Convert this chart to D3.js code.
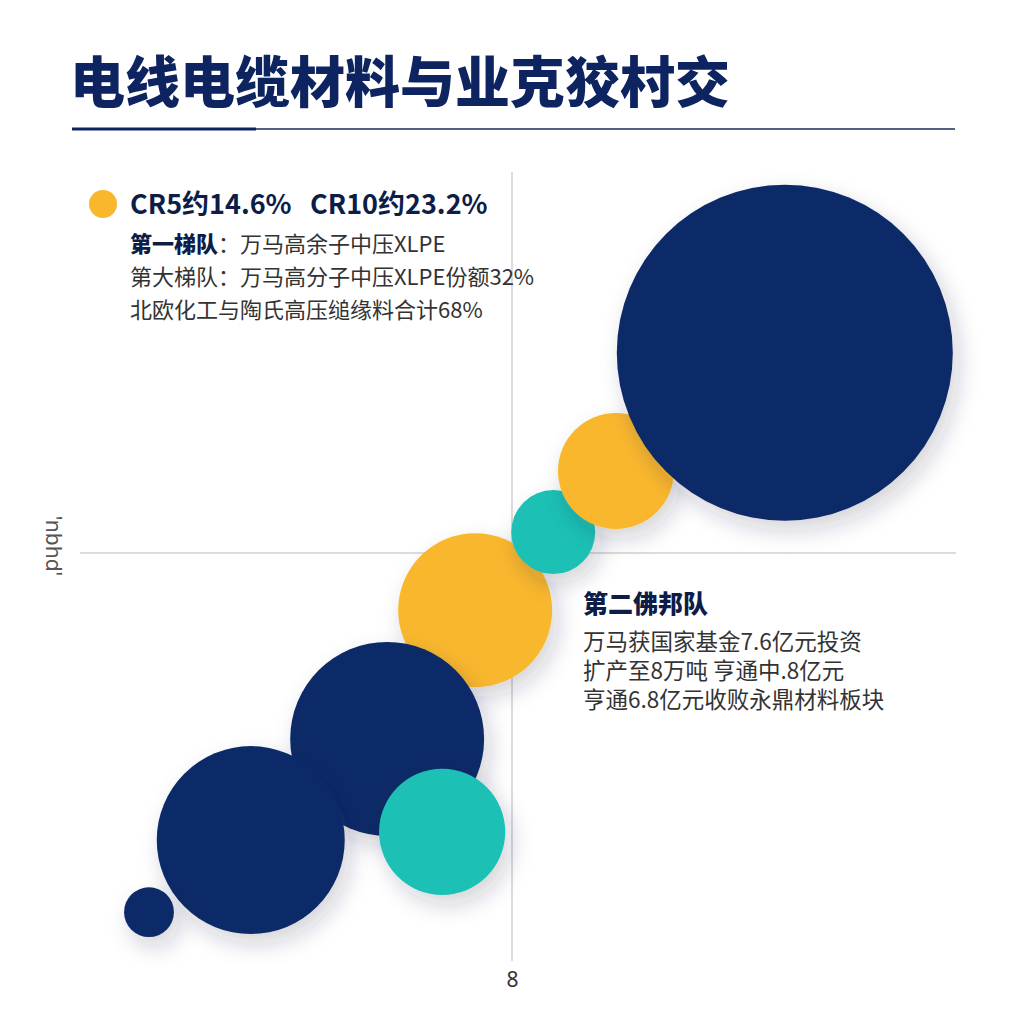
<!DOCTYPE html>
<html>
<head>
<meta charset="utf-8">
<script src="https://cdn.jsdelivr.net/npm/d3@7"></script>
<style>
  html, body { margin: 0; padding: 0; background: #fff; }
  svg { display: block; font-family: "Noto Sans CJK SC", "Noto Sans", sans-serif; }
</style>
</head>
<body>
<svg id="chart" width="1024" height="1024"></svg>
<script>
const WIDTH = 1024;
const HEIGHT = 1024;

// bubble data (x, y in axis units, size ~ area)
const bubbleNames = ['navyBig', 'yellowUp', 'tealSmall', 'yellowMid', 'navyMid', 'navyLow', 'tealLow', 'navyTiny'];
const bubbleX = [12.96, 9.89, 8.75, 7.33, 5.73, 3.25, 6.73, 1.40];
const bubbleY = [11.64, 9.49, 8.38, 6.96, 4.62, 2.78, 2.93, 1.47];
const bubbleSize = [100, 11.9, 6.25, 21.0, 33.3, 31.3, 14.1, 2.2];
const bubbleGroup = ['navy', 'yellow', 'teal', 'yellow', 'navy', 'navy', 'teal', 'navy'];
// back to front
const drawOrder = ['yellowMid', 'navyMid', 'navyLow', 'tealLow', 'navyTiny', 'tealSmall', 'yellowUp', 'navyBig'];

const xTicks = [8];
const titleText = '电线电缆材料与业克狡村交';
const legendHead = 'CR5约14.6%\u00a0\u00a0\u00a0CR10约23.2%';
const legendLines = [
  ['第一梯队', '：万马高余子中压XLPE'],
  ['', '第大梯队：万马高分子中压XLPE份额32%'],
  ['', '北欧化工与陶氏高压缒缘料合计68%']
];
const noteTitle = '第二佛邦队';
const noteLines = ['万马获国家基金7.6亿元投资', '扩产至8万吨 亨通中.8亿元', '亨通6.8亿元收败永鼎材料板块'];
const yLabel = "'nbhd'";

const colors = { navy: '#0a2a68', yellow: '#f9b72d', teal: '#1fc0b5' };
const ink = '#0d1d48';

const svg = d3.select('#chart');

// soft drop shadow for bubbles
const defs = svg.append('defs');
const shadow = defs.append('filter')
  .attr('id', 'shadow')
  .attr('filterUnits', 'userSpaceOnUse')
  .attr('x', 0).attr('y', 0)
  .attr('width', WIDTH).attr('height', HEIGHT);
shadow.append('feDropShadow')
  .attr('dx', 6).attr('dy', 10)
  .attr('stdDeviation', 11)
  .attr('flood-color', '#1a2740')
  .attr('flood-opacity', 0.2);

// title
svg.append('text')
  .attr('x', 70).attr('y', 102)
  .attr('font-size', 55)
  .attr('font-weight', 900)
  .attr('fill', '#0d2461')
  .text(titleText);

svg.append('line')
  .attr('x1', 72).attr('x2', 955)
  .attr('y1', 129).attr('y2', 129)
  .attr('stroke', '#1c2a55').attr('stroke-width', 1.5);
svg.append('line')
  .attr('x1', 72).attr('x2', 256)
  .attr('y1', 129).attr('y2', 129)
  .attr('stroke', '#0d2461').attr('stroke-width', 3);

// scales
const x = d3.scaleLinear().domain([0, 16]).range([72, 952]);
const y = d3.scaleLinear().domain([0, 16]).range([993, 113]);
const r = d3.scaleSqrt().domain([0, d3.max(bubbleSize)]).range([0, 168]);

// quadrant lines
svg.append('line')
  .attr('x1', x(8)).attr('x2', x(8))
  .attr('y1', 172).attr('y2', 961)
  .attr('stroke', '#dcdcdc').attr('stroke-width', 2);
svg.append('line')
  .attr('x1', 80).attr('x2', 956)
  .attr('y1', y(8)).attr('y2', y(8))
  .attr('stroke', '#dcdcdc').attr('stroke-width', 2);

// x axis, only the centre tick
const xAxis = svg.append('g')
  .attr('transform', 'translate(0,962)')
  .call(d3.axisBottom(x).tickValues(xTicks).tickSize(0).tickPadding(10));
xAxis.select('.domain').remove();
xAxis.selectAll('text')
  .attr('font-size', 21)
  .attr('font-family', '"Noto Sans", sans-serif')
  .attr('fill', '#333');

// y label
svg.append('text')
  .attr('transform', 'translate(46,546) rotate(90)')
  .attr('text-anchor', 'middle')
  .attr('font-size', 21)
  .attr('font-family', '"Noto Sans", sans-serif')
  .attr('fill', '#555')
  .text(yLabel);

// bubbles
const bubbles = bubbleNames.map((name, i) => ({
  name, x: bubbleX[i], y: bubbleY[i], size: bubbleSize[i], group: bubbleGroup[i]
}));
bubbles.sort((a, b) => drawOrder.indexOf(a.name) - drawOrder.indexOf(b.name));

svg.append('g')
  .selectAll('circle')
  .data(bubbles)
  .join('circle')
  .attr('cx', (d) => x(d.x))
  .attr('cy', (d) => y(d.y))
  .attr('r', (d) => r(d.size))
  .attr('fill', (d) => colors[d.group])
  .attr('filter', 'url(#shadow)');

// legend block, top left
svg.append('circle')
  .attr('cx', 103).attr('cy', 204).attr('r', 14)
  .attr('fill', colors.yellow);
svg.append('text')
  .attr('x', 130).attr('y', 214)
  .attr('font-size', 27)
  .attr('font-weight', 700)
  .attr('fill', ink)
  .text(legendHead);

legendLines.forEach((parts, i) => {
  const t = svg.append('text')
    .attr('x', 130).attr('y', 252 + i * 33)
    .attr('font-size', 22)
    .attr('fill', '#333');
  if (parts[0]) {
    t.append('tspan').attr('font-weight', 900).attr('fill', ink).text(parts[0]);
  }
  t.append('tspan').text(parts[1]);
});

// note block, lower right
svg.append('text')
  .attr('x', 583).attr('y', 613)
  .attr('font-size', 25)
  .attr('font-weight', 900)
  .attr('fill', ink)
  .text(noteTitle);

noteLines.forEach((line, i) => {
  svg.append('text')
    .attr('x', 583).attr('y', 650 + i * 29)
    .attr('font-size', 22.5)
    .attr('fill', '#333')
    .text(line);
});
</script>
</body>
</html>
